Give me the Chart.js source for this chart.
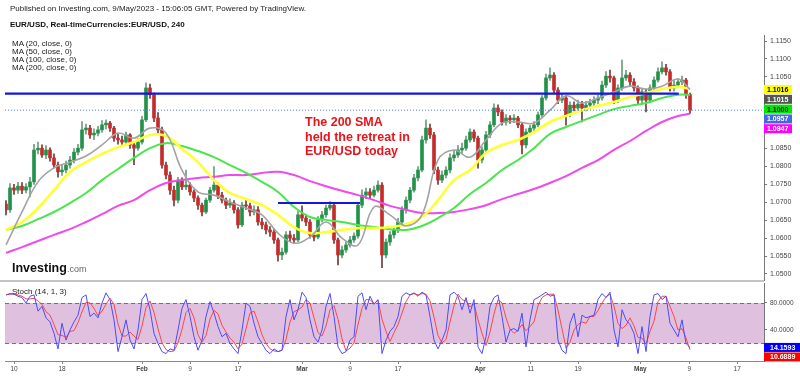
<!DOCTYPE html>
<html><head><meta charset="utf-8">
<script src="https://cdn.jsdelivr.net/npm/chart.js@4.4.0/dist/chart.umd.min.js"></script>
<style>
html,body{margin:0;padding:0;background:#fff;}
#wrap{position:relative;width:800px;height:376px;overflow:hidden;font-family:"Liberation Sans",Arial,sans-serif;}
canvas{position:absolute;left:0;}
.t{position:absolute;white-space:nowrap;z-index:3;}
</style></head><body>
<div id="wrap">
<canvas id="main" width="800" height="282" style="top:0"></canvas>
<canvas id="stoch" width="800" height="94" style="top:282px"></canvas>
<div class="t" style="left:10px;top:4px;font-size:8px;line-height:9px;color:#222">Published on Investing.com, 9/May/2023 - 15:06:05 GMT, Powered by TradingView.</div>
<div class="t" style="left:10px;top:20px;font-size:8px;line-height:9px;color:#111;font-weight:bold">EUR/USD, Real-timeCurrencies:EUR/USD, 240</div>
<div class="t" style="left:12px;top:40px;font-size:8px;line-height:8px;color:#222">MA (20, close, 0)<br>MA (50, close, 0)<br>MA (100, close, 0)<br>MA (200, close, 0)</div>
<div class="t" style="left:305px;top:115px;font-size:12.5px;line-height:14.5px;color:#e8141b;font-weight:bold">The 200 SMA<br>held the retreat in<br>EUR/USD today</div>
<div class="t" style="left:12px;top:260px;line-height:13px;"><span style="font-size:12.5px;font-weight:bold;color:#111">Investing</span><span style="font-size:9px;color:#666">.com</span></div>
<div class="t" style="left:12px;top:287px;font-size:8px;line-height:9px;color:#222">Stoch (14, 1, 3)</div>
</div>
<script>
// ---------- price data (two candles per trading day) ----------
const firstOpen = 1.0695;
const closes = [
1.0679,1.0740,1.0734,1.0745,1.0734,1.0743,1.0757,1.0846,1.0851,1.0832,
1.0846,1.0824,1.0804,1.0785,1.0790,1.0804,1.0818,1.0840,1.0851,1.0902,
1.0907,1.0888,1.0893,1.0902,1.0916,1.0921,1.0907,1.0879,1.0874,1.0868,
1.0888,1.0860,1.0851,1.0868,1.0930,1.1019,1.1000,1.0935,1.0902,1.0804,
1.0776,1.0734,1.0706,1.0762,1.0743,1.0748,1.0729,1.0712,1.0692,1.0673,
1.0706,1.0734,1.0748,1.0720,1.0706,1.0692,1.0698,1.0679,1.0637,1.0692,
1.0690,1.0673,1.0679,1.0645,1.0637,1.0623,1.0617,1.0595,1.0553,1.0561,
1.0609,1.0600,1.0595,1.0665,1.0656,1.0645,1.0609,1.0603,1.0651,1.0665,
1.0684,1.0692,1.0595,1.0553,1.0567,1.0581,1.0595,1.0606,1.0692,1.0720,
1.0729,1.0720,1.0734,1.0748,1.0553,1.0589,1.0609,1.0623,1.0645,1.0679,
1.0706,1.0734,1.0768,1.0790,1.0874,1.0907,1.0888,1.0790,1.0762,1.0776,
1.0790,1.0824,1.0832,1.0846,1.0851,1.0874,1.0896,1.0879,1.0818,1.0846,
1.0888,1.0916,1.0963,1.0952,1.0924,1.0935,1.0930,1.0935,1.0916,1.0860,
1.0896,1.0907,1.0916,1.0944,1.0991,1.1047,1.1055,1.1013,1.0985,1.0991,
1.0944,1.0971,1.0963,1.0974,1.0963,1.0971,1.0977,1.0985,1.0991,1.1027,
1.1052,1.1047,1.0985,1.1019,1.1047,1.1055,1.1036,1.1019,1.0985,1.1008,
1.0985,1.1019,1.1041,1.1064,1.1075,1.1064,1.1019,1.1027,1.1036,1.1041,
1.1000,1.0957];
const highs = [
1.0705,1.0752,1.0750,1.0756,1.0755,1.0752,1.0770,1.0862,1.0868,1.0860,
1.0858,1.0852,1.0835,1.0812,1.0805,1.0815,1.0828,1.0850,1.0862,1.0925,
1.0918,1.0915,1.0905,1.0912,1.0928,1.0930,1.0926,1.0912,1.0890,1.0885,
1.0896,1.0892,1.0870,1.0878,1.0940,1.1033,1.1030,1.1005,1.0950,1.0910,
1.0812,1.0785,1.0745,1.0770,1.0768,1.0790,1.0755,1.0735,1.0718,1.0698,
1.0712,1.0742,1.0800,1.0755,1.0728,1.0712,1.0710,1.0705,1.0685,1.0700,
1.0705,1.0698,1.0690,1.0688,1.0655,1.0645,1.0632,1.0625,1.0600,1.0572,
1.0618,1.0620,1.0610,1.0675,1.0690,1.0665,1.0652,1.0615,1.0660,1.0675,
1.0692,1.0702,1.0698,1.0600,1.0578,1.0590,1.0605,1.0615,1.0700,1.0735,
1.0740,1.0738,1.0745,1.0760,1.0755,1.0598,1.0618,1.0632,1.0655,1.0688,
1.0715,1.0742,1.0778,1.0800,1.0885,1.0930,1.0918,1.0895,1.0798,1.0788,
1.0800,1.0835,1.0845,1.0858,1.0865,1.0885,1.0905,1.0902,1.0885,1.0855,
1.0898,1.0925,1.0975,1.0972,1.0958,1.0945,1.0942,1.0945,1.0940,1.0920,
1.0905,1.0915,1.0925,1.0952,1.0998,1.1058,1.1075,1.1062,1.1020,1.1002,
1.0998,1.0980,1.0980,1.0985,1.0982,1.0982,1.0988,1.0995,1.1000,1.1038,
1.1065,1.1069,1.1052,1.1028,1.1097,1.1068,1.1062,1.1045,1.1025,1.1018,
1.1015,1.1028,1.1050,1.1075,1.1092,1.1085,1.1070,1.1040,1.1045,1.1052,
1.1046,1.1005];
const lows = [
1.0665,1.0672,1.0722,1.0725,1.0724,1.0726,1.0715,1.0750,1.0835,1.0825,
1.0822,1.0815,1.0795,1.0770,1.0775,1.0782,1.0795,1.0810,1.0832,1.0845,
1.0890,1.0878,1.0875,1.0885,1.0895,1.0905,1.0898,1.0870,1.0862,1.0858,
1.0862,1.0850,1.0805,1.0845,1.0862,1.0925,1.0990,1.0925,1.0890,1.0795,
1.0765,1.0722,1.0690,1.0698,1.0735,1.0735,1.0720,1.0702,1.0680,1.0662,
1.0668,1.0700,1.0728,1.0710,1.0698,1.0682,1.0685,1.0670,1.0628,1.0632,
1.0680,1.0662,1.0665,1.0636,1.0626,1.0612,1.0605,1.0585,1.0536,1.0540,
1.0555,1.0590,1.0585,1.0590,1.0648,1.0635,1.0600,1.0592,1.0598,1.0645,
1.0658,1.0678,1.0585,1.0525,1.0545,1.0560,1.0575,1.0588,1.0600,1.0685,
1.0710,1.0712,1.0715,1.0728,1.0518,1.0545,1.0580,1.0600,1.0615,1.0638,
1.0670,1.0698,1.0728,1.0760,1.0785,1.0865,1.0878,1.0780,1.0750,1.0755,
1.0768,1.0782,1.0815,1.0825,1.0838,1.0845,1.0868,1.0870,1.0795,1.0810,
1.0840,1.0880,1.0910,1.0942,1.0915,1.0915,1.0920,1.0922,1.0908,1.0835,
1.0852,1.0888,1.0898,1.0910,1.0938,1.0985,1.1040,1.1005,1.0975,1.0978,
1.0915,1.0938,1.0955,1.0955,1.0924,1.0955,1.0962,1.0968,1.0975,1.0985,
1.1020,1.1035,1.0975,1.0978,1.1012,1.1040,1.1025,1.1010,1.0975,1.0978,
1.0952,1.0978,1.1012,1.1035,1.1058,1.1055,1.1010,1.1010,1.1020,1.1028,
1.0990,1.0948];
// trading-day index of the first candle and spacing (two candles per day)
const firstDay = -1, daysPerCandle = 0.5;

// ---------- moving averages (read every second trading day) ----------
const maDays = [-1,1,3,5,7,9,11,13,15,17,19,21,23,25,27,29,31,33,35,37,39,41,43,45,47,49,51,53,55,57,59,61,63,65,67,69,71,73,75,77,79,81,83,84.5];
const ma20 = [1.0581,1.0673,1.0757,1.0796,1.0812,1.0829,1.0860,1.0893,1.0879,1.0907,1.0893,1.0790,1.0729,1.0720,1.0701,1.0684,1.0665,1.0614,1.0586,1.0603,1.0645,1.0600,1.0581,1.0687,1.0665,1.0634,1.0665,1.0818,1.0846,1.0826,1.0874,1.0921,1.0924,1.0921,1.0957,1.0997,1.0977,1.0991,1.1008,1.1024,1.1016,1.1024,1.1044,1.1015];
const ma50 = [1.0623,1.0645,1.0684,1.0734,1.0785,1.0812,1.0835,1.0854,1.0868,1.0888,1.0885,1.0849,1.0812,1.0762,1.0726,1.0709,1.0692,1.0665,1.0631,1.0614,1.0617,1.0623,1.0628,1.0628,1.0631,1.0639,1.0659,1.0706,1.0762,1.0790,1.0838,1.0860,1.0874,1.0896,1.0924,1.0941,1.0957,1.0969,1.0980,1.0994,1.1005,1.1016,1.1022,1.1016];
const ma100 = [1.0623,1.0634,1.0653,1.0673,1.0698,1.0726,1.0762,1.0793,1.0824,1.0851,1.0865,1.0857,1.0843,1.0826,1.0804,1.0782,1.0757,1.0729,1.0687,1.0659,1.0651,1.0645,1.0637,1.0631,1.0625,1.0623,1.0634,1.0656,1.0684,1.0723,1.0754,1.0790,1.0818,1.0851,1.0891,1.0910,1.0927,1.0944,1.0960,1.0969,1.0977,1.0991,1.1000,1.1000];
const ma200 = [1.0559,1.0575,1.0592,1.0609,1.0625,1.0645,1.0667,1.0690,1.0706,1.0734,1.0754,1.0762,1.0768,1.0771,1.0776,1.0776,1.0782,1.0785,1.0776,1.0759,1.0745,1.0732,1.0720,1.0706,1.0690,1.0679,1.0670,1.0670,1.0673,1.0681,1.0692,1.0709,1.0723,1.0737,1.0754,1.0773,1.0796,1.0818,1.0846,1.0871,1.0899,1.0924,1.0941,1.0947];

// ---------- drawn levels ----------
const resistanceLevel = 1.1003, resistanceFrom = -1.125, resistanceTo = 83.1;
const supportLevel = 1.0698, supportFrom = 33, supportTo = 43.25;
const lastPrice = 1.0957;

// ---------- right-axis value tags ----------
const tagValues = [1.1016, 1.1015, 1.1000, 1.0957, 1.0947];
const tagBg = ['#ffff00', '#555555', '#00e600', '#4169e1', '#ff00ff'];
const tagFg = ['#000000', '#ffffff', '#000000', '#ffffff', '#ffffff'];

// ---------- stochastic (14,1,3) ----------
const stochK = [
92,94,93,90,88,80,90,92,68,75,
58,52,35,12,50,25,40,52,62,88,
92,60,65,58,80,95,85,55,8,30,
55,25,12,40,85,94,70,35,20,8,
5,12,10,40,72,85,60,30,10,25,
60,82,65,45,30,35,20,12,5,40,
80,75,50,30,20,10,5,12,8,10,
60,85,55,70,96,88,55,30,22,40,
75,94,60,15,5,8,25,30,90,95,
70,90,78,85,5,25,38,45,60,90,
95,92,95,90,96,92,60,25,12,25,
40,92,96,90,70,88,65,85,15,5,
30,75,88,92,60,22,40,42,38,65,
15,55,85,88,92,96,90,92,25,10,
5,50,65,30,62,58,60,62,85,94,
88,96,40,15,70,55,48,35,5,45,
8,60,92,94,85,90,50,40,30,55,
20,14.1593];
const stochD = [
92,93,93,92,90,86,86,87,83,78,
67,62,48,33,32,29,38,39,51,67,
81,80,72,61,68,78,87,78,49,31,
31,37,31,26,46,73,83,66,42,21,
11,8,9,21,41,66,72,58,33,22,
32,56,69,64,47,37,28,22,12,19,
42,65,68,52,33,20,12,9,8,10,
26,52,67,70,74,85,80,58,36,31,
46,70,76,56,27,9,13,21,48,72,
85,85,79,84,56,38,23,36,48,65,
82,92,94,92,94,93,83,59,32,21,
26,52,76,93,85,83,74,79,55,35,
17,37,64,85,80,58,41,35,40,48,
39,45,52,76,88,92,93,93,69,42,
13,22,40,48,52,50,60,60,69,80,
89,93,75,50,42,47,58,46,29,28,
19,38,53,82,90,90,75,60,40,42,
28,10.6889];
const stochBand = [20, 80];
const stochTicks = [80, 40];
const stochTags = [14.1593, 10.6889];
const stochTagBg = ['#0000ff', '#ff0000'];

// ---------- axes ----------
const priceTicks = [1.1150,1.1100,1.1050,1.0850,1.0800,1.0750,1.0700,1.0650,1.0600,1.0550,1.0500];
const xTickDays = [0,6,16,22,28,36,42,48,58.25,64.6,70.5,78.3,84.4,90.4];
const xTickLabels = ['10','18','Feb','9','17','Mar','9','17','Apr','11','19','May','9','17'];
const xMin = -1.125, xMax = 93.75;
const priceMin = 1.048326, priceMax = 1.116674;
const stochMin = -5.93, stochMax = 109.6;

Chart.defaults.font.family = '"Liberation Sans", Arial, sans-serif';

const days = closes.map((_, i) => firstDay + i * daysPerCandle);
const opens = closes.map((c, i) => i === 0 ? firstOpen : closes[i - 1]);
const isUp = closes.map((c, i) => c >= opens[i]);

const pts = (xs, ys) => xs.map((x, i) => ({x: x, y: ys[i]}));
const fixY = s => { s.width = 36; s.paddingTop = 0; s.paddingBottom = 0; };

const mainPlugin = {
  id: 'mainExtras',
  afterDraw(chart) {
    const ctx = chart.ctx, ys = chart.scales.y;
    ctx.save();
    ctx.fillStyle = '#c4c4c4';
    ctx.fillRect(0, 280, 764, 2);
    ctx.font = 'bold 7px "Liberation Sans", Arial, sans-serif';
    ctx.textBaseline = 'middle';
    let prev = -1e9;
    tagValues.forEach((v, i) => {
      const cy = Math.max(ys.getPixelForValue(v) + 0.5, prev + 9.8);
      prev = cy;
      ctx.fillStyle = tagBg[i];
      ctx.fillRect(764, cy - 4.5, 28, 9);
      ctx.fillStyle = tagFg[i];
      ctx.fillText(v.toFixed(4), 767, cy + 0.5);
    });
    ctx.restore();
  }
};

new Chart(document.getElementById('main'), {
  type: 'bar',
  data: {
    datasets: [
      {type: 'line', data: [{x: resistanceFrom, y: resistanceLevel}, {x: resistanceTo, y: resistanceLevel}], borderColor: '#1414e6', borderWidth: 2.2, pointRadius: 0, order: 0},
      {type: 'line', data: [{x: supportFrom, y: supportLevel}, {x: supportTo, y: supportLevel}], borderColor: '#1414e6', borderWidth: 2.2, pointRadius: 0, order: 0},
      {type: 'line', data: [{x: xMin, y: lastPrice}, {x: xMax, y: lastPrice}], borderColor: '#4a78ff', borderWidth: 1, borderDash: [1, 2], pointRadius: 0, order: 0},
      {type: 'line', data: pts(maDays, ma20), borderColor: '#a3a3a3', borderWidth: 1.6, pointRadius: 0, tension: 0.4, order: 1},
      {type: 'line', data: pts(maDays, ma50), borderColor: '#ffff33', borderWidth: 2.6, pointRadius: 0, tension: 0.4, order: 2},
      {type: 'line', data: pts(maDays, ma100), borderColor: '#4be64b', borderWidth: 2, pointRadius: 0, tension: 0.4, order: 3},
      {type: 'line', data: pts(maDays, ma200), borderColor: '#ee4aee', borderWidth: 2, pointRadius: 0, tension: 0.4, order: 4},
      {data: days.map((d, i) => ({x: d, y: [opens[i], closes[i]]})), backgroundColor: isUp.map(u => u ? '#22914a' : '#c42b29'), barThickness: 3, minBarLength: 1, grouped: false, order: 5},
      {data: days.map((d, i) => ({x: d, y: [lows[i], highs[i]]})), backgroundColor: isUp.map(u => u ? '#6d9c7e' : '#6e3c3c'), barThickness: 1, grouped: false, order: 6}
    ]
  },
  options: {
    responsive: false, animation: false, devicePixelRatio: 1,
    layout: {padding: {left: 5, top: 35, right: 0, bottom: 2}},
    plugins: {legend: {display: false}, tooltip: {enabled: false}},
    scales: {
      x: {type: 'linear', min: xMin, max: xMax, display: false, offset: false},
      y: {
        position: 'right', min: priceMin, max: priceMax,
        afterFit: fixY,
        afterBuildTicks: s => { s.ticks = priceTicks.map(v => ({value: v})); },
        ticks: {callback: v => Number(v).toFixed(4), font: {size: 7}, color: '#444', padding: 3},
        grid: {drawOnChartArea: false, tickLength: 3, color: '#777'},
        border: {color: '#777'}
      }
    }
  },
  plugins: [mainPlugin]
});

const stochPlugin = {
  id: 'stochExtras',
  beforeDatasetsDraw(chart) {
    const ctx = chart.ctx, ys = chart.scales.y, a = chart.chartArea;
    const yTop = ys.getPixelForValue(stochBand[1]), yBot = ys.getPixelForValue(stochBand[0]);
    ctx.save();
    ctx.fillStyle = '#dfc1df';
    ctx.fillRect(a.left, yTop, a.right - a.left, yBot - yTop);
    ctx.strokeStyle = '#7d6b7d';
    ctx.lineWidth = 1;
    ctx.setLineDash([4, 3]);
    [yTop, yBot].forEach(y => {
      ctx.beginPath(); ctx.moveTo(a.left, Math.round(y) + 0.5); ctx.lineTo(a.right, Math.round(y) + 0.5); ctx.stroke();
    });
    ctx.restore();
  },
  afterDraw(chart) {
    const ctx = chart.ctx, ys = chart.scales.y;
    ctx.save();
    ctx.font = 'bold 7px "Liberation Sans", Arial, sans-serif';
    ctx.textBaseline = 'middle';
    let prev = -1e9;
    stochTags.forEach((v, i) => {
      const cy = Math.max(ys.getPixelForValue(v), prev + 9.5);
      prev = cy;
      ctx.fillStyle = stochTagBg[i];
      ctx.fillRect(764, cy - 4.5, 36, 9);
      ctx.fillStyle = '#fff';
      ctx.fillText(v.toFixed(4), 770, cy + 0.5);
    });
    ctx.restore();
  }
};

new Chart(document.getElementById('stoch'), {
  type: 'line',
  data: {
    datasets: [
      {data: pts(days, stochK), borderColor: '#4b4bff', borderWidth: 1, pointRadius: 0, order: 1},
      {data: pts(days, stochD), borderColor: '#ff4646', borderWidth: 1, pointRadius: 0, order: 2}
    ]
  },
  options: {
    responsive: false, animation: false, devicePixelRatio: 1,
    layout: {padding: {left: 5, top: 1, right: 0, bottom: 0}},
    plugins: {legend: {display: false}, tooltip: {enabled: false}},
    scales: {
      x: {
        type: 'linear', min: xMin, max: xMax, offset: false,
        afterFit: s => { s.height = 15; s.paddingLeft = 0; s.paddingRight = 0; },
        afterBuildTicks: s => { s.ticks = xTickDays.map(v => ({value: v})); },
        ticks: {
          autoSkip: false, maxRotation: 0, padding: 1, color: '#444',
          callback: (v, i) => xTickLabels[i],
          font: ctx => ({size: 6.5, weight: /[A-Za-z]/.test(xTickLabels[ctx.index] || '') ? 'bold' : 'normal'})
        },
        grid: {drawOnChartArea: false, tickLength: 3, color: '#888'},
        border: {color: '#888'}
      },
      y: {
        position: 'right', min: stochMin, max: stochMax,
        afterFit: fixY,
        afterBuildTicks: s => { s.ticks = stochTicks.map(v => ({value: v})); },
        ticks: {callback: v => Number(v).toFixed(4), font: {size: 6.5}, color: '#444', padding: 3},
        grid: {drawOnChartArea: false, tickLength: 3, color: '#777'},
        border: {color: '#777'}
      }
    }
  },
  plugins: [stochPlugin]
});
</script>
</body></html>
